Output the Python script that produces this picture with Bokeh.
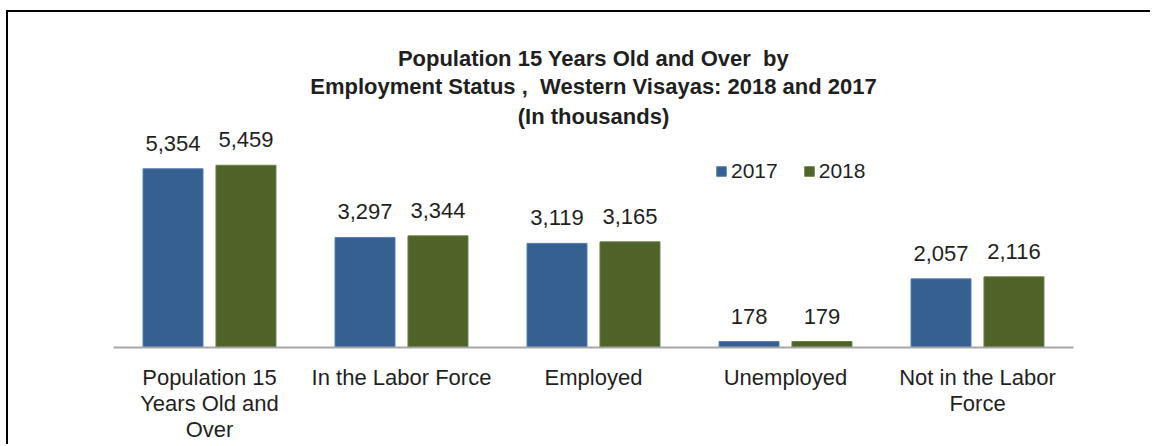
from bokeh.plotting import figure
from bokeh.models import ColumnDataSource, LabelSet, Legend, LegendItem, Range1d, Title
from bokeh.core.properties import value
from bokeh.transform import dodge
from bokeh.embed import file_html
from bokeh.resources import INLINE

categories = ["Population 15\nYears Old and\nOver", "In the Labor Force", "Employed",
              "Unemployed", "Not in the Labor\nForce"]
values_2017 = [5354, 3297, 3119, 178, 2057]
values_2018 = [5459, 3344, 3165, 179, 2116]
labels_2017 = ["5,354", "3,297", "3,119", "178", "2,057"]
labels_2018 = ["5,459", "3,344", "3,165", "179", "2,116"]
title_lines = ["Population 15 Years Old and Over \u00a0by",
               "Employment Status , \u00a0Western Visayas: 2018 and 2017",
               "(In thousands)"]

FONT = "Liberation Sans"
TXT = "#1f1f1f"
BLUE = "#376092"
GREEN = "#4F6228"

src = ColumnDataSource(dict(cat=categories, v17=values_2017, v18=values_2018,
                            l17=labels_2017, l18=labels_2018))

W, H = 1144, 434
OX, OY = 8, 12   # where the figure content is expected to start on the page
p = figure(x_range=categories, width=W, height=H, output_backend="svg",
           toolbar_location=None, tools="")
p.margin = (OY - 2, 0, 0, OX - 2)
p.styles = {"border-left": "2px solid black", "border-top": "2px solid black"}
p.y_range = Range1d(0, 6500)
p.min_border_left = 113 - OX
p.min_border_right = W - (113 - OX) - 960
p.min_border_top = 130 - OY
p.min_border_bottom = H - (347 - OY)
p.outline_line_color = None
p.background_fill_color = "white"
p.border_fill_color = "white"

def style_title(t, standoff):
    t.align = "center"
    t.text_font = FONT
    t.text_font_size = "22px"
    t.text_font_style = "bold"
    t.text_color = TXT
    t.standoff = standoff

p.title.text = title_lines[0]
style_title(p.title, 1)
for line, so in ((title_lines[2], 4), (title_lines[1], 1)):
    t = Title(text=line)
    style_title(t, so)
    p.add_layout(t, "above")

r17 = p.vbar(x=dodge("cat", -0.19, range=p.x_range), top="v17", width=0.3125, source=src,
             fill_color=BLUE, line_color="#5a7fae", line_width=1)
r18 = p.vbar(x=dodge("cat", 0.19, range=p.x_range), top="v18", width=0.3125, source=src,
             fill_color=GREEN, line_color="#6b7f45", line_width=1)

for col, off in (("l17", -0.19), ("l18", 0.19)):
    p.add_layout(LabelSet(x=dodge("cat", off, range=p.x_range), y=col.replace("l", "v"),
                          text=col, source=src, text_align="center",
                          text_baseline="alphabetic", y_offset=18,
                          text_font=value(FONT), text_font_size=value("22px"),
                          text_color=value(TXT)))

p.xgrid.visible = False
p.ygrid.visible = False
p.yaxis.visible = False

ax = p.xaxis[0]
ax.axis_line_color = "#a6a6a6"
ax.axis_line_width = 2
ax.major_tick_line_color = None
ax.minor_tick_line_color = None
ax.major_tick_out = 0
ax.major_tick_in = 0
ax.major_label_text_font = FONT
ax.major_label_text_font_size = "22px"
ax.major_label_text_color = TXT
ax.major_label_standoff = 17
ax.major_label_text_line_height = 1.05

legend = Legend(items=[LegendItem(label="2017", renderers=[r17]),
                       LegendItem(label="2018", renderers=[r18])],
                orientation="horizontal", location=(602, 164),
                label_text_font=FONT, label_text_font_size="21px", label_text_color=TXT,
                glyph_width=12, glyph_height=12, label_standoff=4, spacing=25,
                padding=0, margin=0, border_line_color=None, background_fill_alpha=0)
p.add_layout(legend, "center")

open("out.html", "w").write(file_html(p, INLINE))
